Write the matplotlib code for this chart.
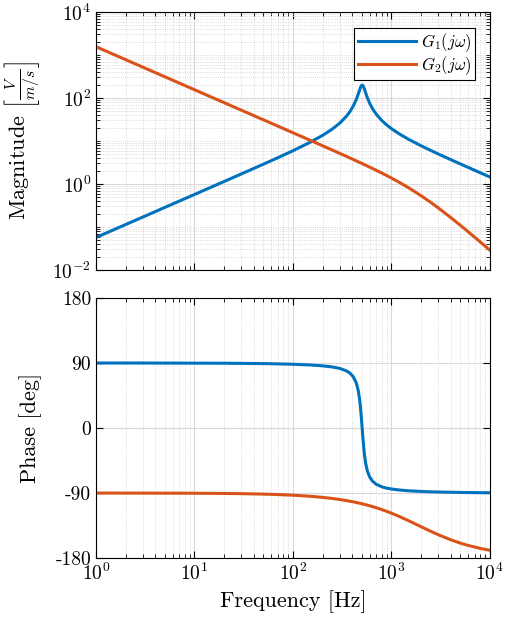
import numpy as np
import matplotlib
matplotlib.use("Agg")
import matplotlib.pyplot as plt
from matplotlib.ticker import LogLocator, NullFormatter

plt.rcParams['font.family'] = ['cmr10', 'DejaVu Serif']
plt.rcParams['mathtext.fontset'] = 'cm'
plt.rcParams['axes.formatter.use_mathtext'] = True

# Values
freq = [1, 2, 3, 5, 7, 10, 20, 30, 50, 70, 100, 150, 200, 250, 300, 350, 380, 410,
        440, 460, 475, 485, 495, 500, 505, 510, 515, 525, 535, 550, 570, 600, 640,
        700, 800, 900, 1000, 1200, 1500, 2000, 2500, 3000, 4000, 5000, 6000, 8000, 10000]
mag_g1 = [0.057, 0.114, 0.171, 0.285, 0.3991, 0.5702, 1.142, 1.716, 2.878, 4.067, 5.93,
          9.367, 13.49, 18.79, 26.2, 37.7, 48.44, 64.86, 92.35, 122, 152.2, 174.3, 192.6,
          198, 199.9, 198.1, 192.9, 175.9, 155.9, 128.8, 102, 76.72, 57.63, 42.32, 29.87,
          23.41, 19.42, 14.68, 10.91, 7.757, 6.059, 4.985, 3.692, 2.937, 2.44, 1.824, 1.457]
phase_g1 = [90.0, 90.0, 90.0, 89.9, 89.9, 89.8, 89.7, 89.5, 89.2, 88.8, 88.3, 87.3, 86.1,
            84.6, 82.5, 79.1, 76.0, 71.1, 62.5, 52.4, 40.4, 29.3, 15.5, 7.9, 0.0, -7.8,
            -15.2, -28.4, -38.7, -49.9, -59.3, -67.4, -73.2, -77.8, -81.4, -83.3, -84.4,
            -85.8, -86.9, -87.8, -88.3, -88.6, -88.9, -89.2, -89.3, -89.5, -89.6]
mag_g2 = [1560, 780, 520, 312, 222.9, 156, 78, 51.99, 31.19, 22.27, 15.58, 10.37, 7.757,
          6.186, 5.136, 4.383, 4.025, 3.718, 3.453, 3.295, 3.185, 3.116, 3.049, 3.016,
          2.984, 2.953, 2.923, 2.863, 2.806, 2.723, 2.62, 2.478, 2.309, 2.09, 1.796, 1.565,
          1.379, 1.097, 0.8146, 0.5357, 0.3763, 0.2772, 0.1666, 0.1103, 0.07812, 0.04483, 0.02897]
phase_g2 = [-90.0, -90.1, -90.1, -90.2, -90.2, -90.3, -90.6, -90.9, -91.5, -92.1, -93.0,
            -94.5, -96.0, -97.5, -99.0, -100.5, -101.4, -102.2, -103.1, -103.7, -104.1,
            -104.4, -104.7, -104.8, -105.0, -105.1, -105.2, -105.5, -105.8, -106.2, -106.8,
            -107.6, -108.7, -110.3, -112.9, -115.5, -117.9, -122.4, -128.4, -136.6, -142.9,
            -147.8, -154.7, -159.3, -162.5, -166.7, -169.3]
labels = [r'$G_1(j\omega)$', r'$G_2(j\omega)$']
phase_ticks = [-180, -90, 0, 90, 180]

blue = '#0072BD'
orange = '#D95319'

fig = plt.figure(figsize=(5.05, 6.21), dpi=100)
ax1 = fig.add_axes([0.190, 0.5652, 0.780, 0.4155])
ax2 = fig.add_axes([0.190, 0.1014, 0.780, 0.4187])

ax1.loglog(freq, mag_g1, color=blue, lw=2.2, label=labels[0])
ax1.loglog(freq, mag_g2, color=orange, lw=2.2, label=labels[1])
ax2.semilogx(freq, phase_g1, color=blue, lw=2.2)
ax2.semilogx(freq, phase_g2, color=orange, lw=2.2)

for ax in (ax1, ax2):
    ax.set_xlim(1, 1e4)
    ax.xaxis.set_major_locator(LogLocator(base=10, numticks=10))
    ax.xaxis.set_minor_locator(LogLocator(base=10, subs=np.arange(2, 10), numticks=100))
    ax.xaxis.set_minor_formatter(NullFormatter())
    ax.grid(which='major', color='#d9d9d9', lw=0.8, ls='-')
    ax.grid(which='minor', axis='x', color='#cfcfcf', lw=0.6, ls=':')
    ax.tick_params(which='both', direction='in', top=True, right=True, labelsize=14)
    ax.tick_params(which='major', length=5, width=0.8)
    ax.tick_params(which='minor', length=3, width=0.6)
    for s in ax.spines.values():
        s.set_linewidth(0.8)
    ax.set_axisbelow(True)

ax1.set_ylim(1e-2, 1e4)
ax1.set_yticks([1e-2, 1e0, 1e2, 1e4])
ax1.yaxis.set_minor_locator(LogLocator(base=10, subs=np.arange(1, 10), numticks=100))
ax1.yaxis.set_minor_formatter(NullFormatter())
ax1.grid(which='minor', axis='y', color='#cfcfcf', lw=0.6, ls=':')
ax1.tick_params(labelbottom=False)
ax1.set_ylabel(r'Magnitude $\left[\frac{V}{m/s}\right]$', fontsize=16)
ax1.yaxis.set_label_coords(-0.137, 0.5)

leg = ax1.legend(loc='upper right', bbox_to_anchor=(0.962, 0.938), borderaxespad=0,
                 fontsize=12, handlelength=3.5, handletextpad=0.3, fancybox=False,
                 framealpha=1, edgecolor='black', borderpad=0.2, labelspacing=0.0)
leg.get_frame().set_linewidth(0.8)

ax2.set_ylim(-180, 180)
ax2.set_yticks(phase_ticks)
ax2.set_yticklabels([str(t) for t in phase_ticks])
ax2.set_ylabel('Phase [deg]', fontsize=16)
ax2.yaxis.set_label_coords(-0.137, 0.5)
ax2.set_xlabel('Frequency [Hz]', fontsize=16)

fig.savefig('out.png', dpi=100)
